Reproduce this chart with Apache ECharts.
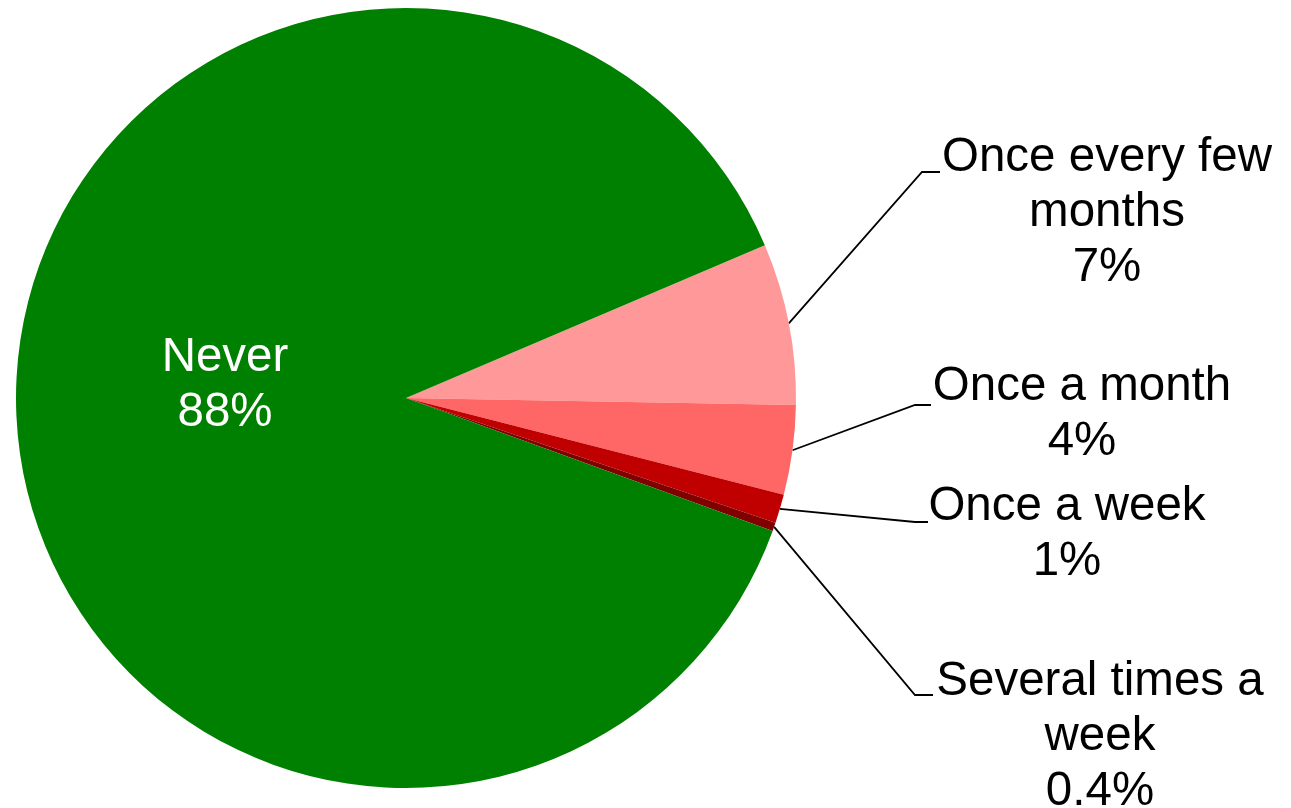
<!DOCTYPE html>
<html>
<head>
<meta charset="utf-8">
<script src="https://cdn.jsdelivr.net/npm/echarts@6/dist/echarts.min.js"></script>
<style>
html,body{margin:0;padding:0;background:#fff;}
#chart{width:1291px;height:808px;}
</style>
</head>
<body>
<div id="chart"></div>
<script>
// Data
const categories = ['Once every few months', 'Once a month', 'Once a week', 'Several times a week', 'Never'];
const values = [6.69, 3.71, 1.19, 0.35, 88.06];
const percentLabels = ['7%', '4%', '1%', '0.4%', '88%'];
const labelNames = ['Once every few\nmonths', 'Once a month', 'Once a week', 'Several times a\nweek', 'Never'];
const colors = ['#FF9999', '#FF6666', '#C00000', '#800000', '#008000'];

// Label placement (layout only)
const labelPlacement = [
  { cx: 1107, top: 130, lineY: 172, elbowX: 922, endX: 940 },
  { cx: 1082, top: 359, lineY: 405, elbowX: 915, endX: 931 },
  { cx: 1067, top: 479, lineY: 522, elbowX: 915, endX: 928 },
  { cx: 1100, top: 654, lineY: 695, elbowX: 915, endX: 933 },
  { cx: 225, top: 330 }
];

const chart = echarts.init(document.getElementById('chart'), null, { renderer: 'canvas' });

const seriesData = categories.map((c, i) => {
  const item = {
    name: c,
    value: values[i],
    itemStyle: { color: colors[i] }
  };
  if (c === 'Never') {
    item.label = { position: 'inside', color: '#FFFFFF' };
    item.labelLine = { show: false };
  }
  return item;
});

chart.setOption({
  animation: false,
  backgroundColor: '#FFFFFF',
  series: [{
    type: 'pie',
    center: [406, 398],
    radius: [0, 390],
    startAngle: 23.06,
    clockwise: true,
    avoidLabelOverlap: false,
    silent: true,
    itemStyle: { borderWidth: 0 },
    label: {
      show: true,
      position: 'outside',
      fontFamily: '"Liberation Sans", Arial, sans-serif',
      fontSize: 47.5,
      lineHeight: 55,
      color: '#000000',
      align: 'center',
      formatter: function (p) {
        return labelNames[p.dataIndex] + '\n' + percentLabels[p.dataIndex];
      }
    },
    labelLine: {
      show: true,
      smooth: false,
      lineStyle: { color: '#000000', width: 1.8 }
    },
    labelLayout: function (params) {
      const pl = labelPlacement[params.dataIndex];
      const res = { x: pl.cx, y: pl.top, align: 'center', verticalAlign: 'top' };
      if (pl.elbowX !== undefined && params.labelLinePoints) {
        const start = params.labelLinePoints[0];
        res.labelLinePoints = [
          [start[0], start[1]],
          [pl.elbowX, pl.lineY],
          [pl.endX, pl.lineY]
        ];
      }
      return res;
    },
    data: seriesData
  }]
});
</script>
</body>
</html>
